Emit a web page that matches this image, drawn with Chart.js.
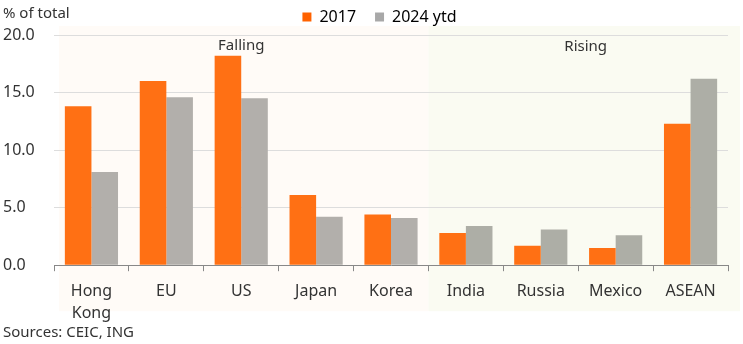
<!DOCTYPE html>
<html>
<head>
<meta charset="utf-8">
<script src="https://cdn.jsdelivr.net/npm/chart.js@4/dist/chart.umd.min.js"></script>
<style>
  html, body { margin: 0; padding: 0; background: #fff; }
  #wrap { width: 743px; height: 344px; }
</style>
</head>
<body>
<div id="wrap"><canvas id="chart" width="743" height="344"></canvas></div>
<script>
const categories = [['Hong', 'Kong'], 'EU', 'US', 'Japan', 'Korea', 'India', 'Russia', 'Mexico', 'ASEAN'];
const share2017 = [13.8, 16.0, 18.2, 6.1, 4.4, 2.8, 1.7, 1.5, 12.3];
const share2024 = [8.1, 14.6, 14.5, 4.2, 4.1, 3.4, 3.1, 2.6, 16.2];
const yTicks = [0, 5, 10, 15, 20];

const FONT = "'Noto Sans', sans-serif";
const TEXT = '#333333';

// 背景の塗り分けと注釈テキスト
const decor = {
  id: 'decor',
  beforeDraw(chart) {
    const { ctx, chartArea, scales } = chart;
    const x = scales.x;
    const top = chartArea.top - 9;
    const bottom = chartArea.bottom + 46;
    const left = chartArea.left + 5;
    const mid = x.getPixelForValue(4.5);
    const right = chart.width - 3;
    ctx.save();
    ctx.fillStyle = '#fffbf7';
    ctx.fillRect(left, top, mid - left, bottom - top);
    ctx.fillStyle = '#fafbf2';
    ctx.fillRect(mid, top, right - mid, bottom - top);
    ctx.restore();
  },
  afterDraw(chart) {
    const { ctx, chartArea, scales } = chart;
    ctx.save();
    ctx.fillStyle = TEXT;
    ctx.font = '15px ' + FONT;
    ctx.textBaseline = 'middle';
    ctx.textAlign = 'left';
    ctx.fillText('% of total', 3, 14);
    ctx.fillText('Sources: CEIC, ING', 3, 333);
    ctx.textAlign = 'center';
    ctx.fillText('Falling', scales.x.getPixelForValue(2), chartArea.top + 11);
    ctx.fillText('Rising', scales.x.getPixelForValue(6.6), chartArea.top + 12);
    ctx.restore();
  },
  afterLayout(chart) {
    chart.legend.left += 14;
    chart.legend.right += 14;
  }
};

new Chart(document.getElementById('chart').getContext('2d'), {
  type: 'bar',
  data: {
    labels: categories,
    datasets: [
      {
        label: '2017',
        data: share2017,
        backgroundColor: '#ff7014',
        barPercentage: 1,
        categoryPercentage: 0.71
      },
      {
        label: '2024 ytd',
        data: share2024,
        backgroundColor: share2024.map((v, i) => i < 5 ? '#b2afab' : '#adaea6'),
        barPercentage: 1,
        categoryPercentage: 0.71
      }
    ]
  },
  options: {
    responsive: false,
    animation: false,
    layout: { padding: { left: 3, right: 15, top: -10, bottom: 10 } },
    plugins: {
      legend: {
        position: 'top',
        labels: {
          boxWidth: 9,
          boxHeight: 9,
          padding: 19,
          color: TEXT,
          font: { family: FONT, size: 16 },
          generateLabels(chart) {
            return chart.data.datasets.map((ds, i) => ({
              text: ds.label,
              fillStyle: i === 0 ? '#ff6200' : '#a8a8a8',
              strokeStyle: 'transparent',
              lineWidth: 0,
              datasetIndex: i
            }));
          }
        }
      },
      tooltip: { enabled: false }
    },
    scales: {
      x: {
        grid: {
          drawOnChartArea: false,
          drawTicks: true,
          tickLength: 6,
          color: '#888888'
        },
        border: { color: '#888888', width: 1 },
        ticks: {
          color: TEXT,
          font: { family: FONT, size: 16, lineHeight: 1.4 },
          padding: 9,
          maxRotation: 0,
          autoSkip: false
        }
      },
      y: {
        min: 0,
        max: 20,
        afterBuildTicks(scale) {
          scale.ticks = yTicks.map(v => ({ value: v }));
        },
        afterFit(scale) { scale.width = 51; },
        grid: { color: '#dddddd', drawTicks: false },
        border: { display: false },
        ticks: {
          color: TEXT,
          font: { family: FONT, size: 16 },
          crossAlign: 'far',
          padding: 0,
          callback: v => v.toFixed(1)
        }
      }
    }
  },
  plugins: [decor]
});
</script>
</body>
</html>
